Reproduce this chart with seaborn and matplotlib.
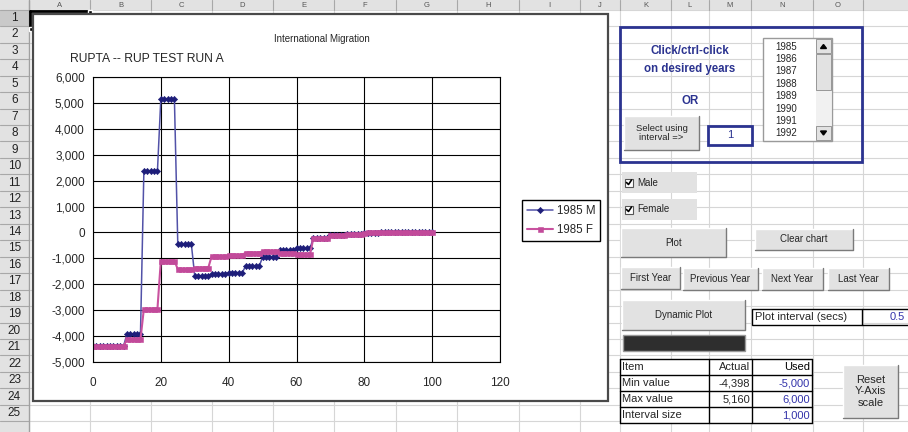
import numpy as np
import pandas as pd
import matplotlib
matplotlib.use("Agg")
import matplotlib.pyplot as plt
from matplotlib.patches import Rectangle
from matplotlib.ticker import FuncFormatter
import seaborn as sns

# --- data -----------------------------------------------------------
ages = list(range(0, 101))

male_1985 = [
    -4398, -4398, -4398, -4398, -4398,
    -4390, -4390, -4390, -4390, -4390,
    -3920, -3920, -3920, -3920, -3920,
    2370, 2370, 2370, 2370, 2370,
    5160, 5160, 5160, 5160, 5160,
    -460, -460, -460, -460, -460,
    -1680, -1680, -1680, -1680, -1680,
    -1600, -1600, -1600, -1600, -1600,
    -1550, -1550, -1550, -1550, -1550,
    -1300, -1300, -1300, -1300, -1300,
    -960, -960, -960, -960, -960,
    -680, -680, -680, -680, -680,
    -600, -600, -600, -600, -600,
    -200, -200, -200, -200, -200,
    -100, -100, -100, -100, -100,
    -60, -60, -60, -60, -60,
    -10, -10, -10, -10, -10,
    0, 0, 0, 0, 0,
    0, 0, 0, 0, 0,
    0, 0, 0, 0, 0,
    0,
]

female_1985 = [
    -4400, -4400, -4400, -4400, -4400,
    -4400, -4400, -4400, -4400, -4400,
    -4120, -4120, -4120, -4120, -4120,
    -2950, -2950, -2950, -2950, -2950,
    -1090, -1090, -1090, -1090, -1090,
    -1420, -1420, -1420, -1420, -1420,
    -1360, -1360, -1360, -1360, -1360,
    -910, -910, -910, -910, -910,
    -870, -870, -870, -870, -870,
    -780, -780, -780, -780, -780,
    -720, -720, -720, -720, -720,
    -800, -800, -800, -800, -800,
    -830, -830, -830, -830, -830,
    -210, -210, -210, -210, -210,
    -100, -100, -100, -100, -100,
    -70, -70, -70, -70, -70,
    -40, 10, 10, 10, 10,
    10, 10, 10, 10, 10,
    10, 10, 10, 10, 10,
    10, 10, 10, 10, 10,
    10,
]

series_names = ["1985 M", "1985 F"]
year_list = ["1985", "1986", "1987", "1988", "1989", "1990", "1991", "1992"]
table_rows = [
    ["Item", "Actual", "Used"],
    ["Min value", "-4,398", "-5,000"],
    ["Max value", "5,160", "6,000"],
    ["Interval size", "", "1,000"],
]
col_letters = ["A", "B", "C", "D", "E", "F", "G", "H", "I", "J", "K", "L", "M", "N", "O", "P"]

# --- settings ------------------------------------------------------
W, H = 908, 432
BLUE_TXT = "#2B3390"
sns.set_theme(style="white")
plt.rcParams["font.family"] = ["Liberation Sans", "DejaVu Sans"]

fig = plt.figure(figsize=(W / 100, H / 100), dpi=100)


def rect(x0, y0, x1, y1):
    return [x0 / W, 1 - y1 / H, (x1 - x0) / W, (y1 - y0) / H]


# background axes in pixel coords (y down)
bg = fig.add_axes([0, 0, 1, 1])
bg.set_xlim(0, W)
bg.set_ylim(H, 0)
bg.axis("off")

# --- spreadsheet grid ----------------------------------------------
col_edges = [29, 90, 151, 212, 273, 334, 396, 457, 519, 580, 620, 671, 709, 751, 813, 863, 930]
row_h = 16.46
row_tops = [9.8 + i * row_h for i in range(27)]

for x in col_edges:
    bg.plot([x, x], [0, H], color="#D6D6D6", lw=0.8, zorder=0)
for y in row_tops:
    bg.plot([29, W], [y, y], color="#D6D6D6", lw=0.8, zorder=0)

# headers
bg.add_patch(Rectangle((0, 0), W, 9.8, fc="#E2E2E2", ec="none", zorder=1))
bg.add_patch(Rectangle((0, 0), 29, H, fc="#E2E2E2", ec="none", zorder=1))
bg.add_patch(Rectangle((0, row_tops[0]), 29, row_h, fc="#C9C9C9", ec="none", zorder=1))
for x in col_edges:
    bg.plot([x, x], [0, 9.8], color="#A8A8A8", lw=0.8, zorder=2)
for i, (a, b) in enumerate(zip(col_edges[:-1], col_edges[1:])):
    if b > W:
        continue
    bg.text((a + b) / 2, 5.2, col_letters[i], ha="center", va="center",
            fontsize=5.5, color="#555555", zorder=2)
for i in range(26):
    y = row_tops[i]
    bg.plot([0, 29], [y, y], color="#A8A8A8", lw=0.8, zorder=2)
    if i < 25:
        bg.text(14.5, y + row_h / 2, str(i + 1), ha="center", va="center",
                fontsize=8.5, color="#222222", zorder=2)
bg.plot([29, 29], [0, H], color="#A0A0A0", lw=1, zorder=2)

# A1 selection outline
bg.plot([30, 90], [11, 11], color="black", lw=2, zorder=3)
bg.plot([30, 30], [11, 28], color="black", lw=2, zorder=3)
bg.add_patch(Rectangle((88, 9.5), 4, 4, fc="black", zorder=3))
bg.add_patch(Rectangle((28.5, 26.5), 4, 4, fc="black", zorder=3))

# --- chart area ----------------------------------------------------
bg.add_patch(Rectangle((33, 14), 575, 387, fc="white", ec="#4A4A4A", lw=1.6, zorder=4))
bg.text(322, 39, "International Migration", ha="center", va="center", fontsize=7, zorder=5)
bg.text(70, 59, "RUPTA -- RUP TEST RUN A", ha="left", va="center", fontsize=8.7, zorder=5)

ax = fig.add_axes(rect(93, 77, 500, 362))
ax.set_facecolor("white")

df_m = pd.DataFrame({"age": ages, "value": male_1985})
df_f = pd.DataFrame({"age": ages, "value": female_1985})
sns.lineplot(data=df_m, x="age", y="value", ax=ax, color="#5252A8", lw=1.1,
             marker="D", markersize=3.2, markerfacecolor="#1E1E7A",
             markeredgecolor="#1E1E7A", markeredgewidth=0.4, label=series_names[0])
sns.lineplot(data=df_f, x="age", y="value", ax=ax, color="#C9529F", lw=1.5,
             marker="s", markersize=3.6, markerfacecolor="#C24A9A",
             markeredgecolor="#C24A9A", markeredgewidth=0.4, label=series_names[1])

ax.set_xlim(0, 120)
ax.set_ylim(-5000, 6000)
ax.set_xticks(range(0, 121, 20))
ax.set_yticks(range(-5000, 6001, 1000))
ax.yaxis.set_major_formatter(FuncFormatter(lambda v, p: f"{int(v):,}"))
ax.set_xlabel("")
ax.set_ylabel("")
ax.grid(True, color="black", lw=0.8)
ax.set_axisbelow(True)
for s in ax.spines.values():
    s.set_color("black")
    s.set_linewidth(0.8)
ax.tick_params(direction="inout", length=6, width=0.8, color="black",
               labelsize=8.5, pad=3)
ax.tick_params(axis="x", pad=8)

leg = ax.legend(loc="center", bbox_to_anchor=(561 / W, 1 - 220.5 / H),
                bbox_transform=fig.transFigure, frameon=True, fancybox=False,
                edgecolor="black", framealpha=1, fontsize=8.3, handlelength=2.3,
                borderpad=0.45, labelspacing=0.6, handletextpad=0.3, borderaxespad=0)
leg.get_frame().set_linewidth(1)


# --- form controls -------------------------------------------------
def button(x0, y0, x1, y1, label, fs=7, **kw):
    bg.add_patch(Rectangle((x0, y0), x1 - x0, y1 - y0, fc="#E2E2E2", ec="none", zorder=5))
    bg.plot([x0, x0, x1], [y1, y0, y0], color="white", lw=1, zorder=6)
    bg.plot([x0, x1, x1], [y1, y1, y0], color="#7A7A7A", lw=1, zorder=6)
    bg.text((x0 + x1) / 2, (y0 + y1) / 2, label, ha="center", va="center",
            fontsize=fs, zorder=7, **kw)


# year selection box
bg.add_patch(Rectangle((620, 27), 242, 135, fc="none", ec=BLUE_TXT, lw=2, zorder=5))
bg.text(690, 51, "Click/ctrl-click", ha="center", va="center", fontsize=8.3,
        fontweight="bold", color=BLUE_TXT, zorder=6)
bg.text(690, 69, "on desired years", ha="center", va="center", fontsize=8.3,
        fontweight="bold", color=BLUE_TXT, zorder=6)
bg.text(690, 101, "OR", ha="center", va="center", fontsize=8.3,
        fontweight="bold", color=BLUE_TXT, zorder=6)
button(624, 116, 699, 150, "Select using\ninterval =>", fs=6.8, linespacing=1.05)
bg.add_patch(Rectangle((708, 126), 44, 19, fc="white", ec=BLUE_TXT, lw=2, zorder=5))
bg.text(730, 135.5, "1", ha="center", va="center", fontsize=8, color=BLUE_TXT, zorder=6)

# list box
bg.add_patch(Rectangle((763, 38), 69, 103, fc="white", ec="#9A9A9A", lw=1, zorder=5))
for k, yr in enumerate(year_list):
    bg.text(775, 46.5 + k * 12.4, yr, ha="left", va="center", fontsize=7, zorder=6)
bg.add_patch(Rectangle((816, 39), 15, 101, fc="#F1F1F1", ec="none", zorder=6))
for y0, y1 in [(39, 53), (54, 90), (126, 140)]:
    bg.add_patch(Rectangle((816, y0), 15, y1 - y0, fc="#E2E2E2", ec="#8A8A8A", lw=0.6, zorder=7))
bg.fill([820.5, 826.5, 823.5], [48.5, 48.5, 44.5], color="black", zorder=8)
bg.fill([820.5, 826.5, 823.5], [131, 131, 135], color="black", zorder=8)

# checkboxes
for y0, lab in [(172, "Male"), (199, "Female")]:
    bg.add_patch(Rectangle((622, y0), 75, 21, fc="#E2E2E2", ec="none", zorder=5))
    bg.add_patch(Rectangle((625, y0 + 6.5), 8, 8, fc="white", ec="#555555", lw=0.8, zorder=6))
    bg.plot([626.5, 628.5, 631.5], [y0 + 10.5, y0 + 12.5, y0 + 8], color="black", lw=1.2, zorder=7)
    bg.text(637, y0 + 10.5, lab, ha="left", va="center", fontsize=7, zorder=7)

button(621, 228, 726, 257, "Plot")
button(755, 229, 853, 250, "Clear chart")
button(621, 267, 680, 289, "First Year")
button(683, 268, 758, 290, "Previous Year")
button(762, 268, 823, 290, "Next Year")
button(828, 268, 889, 290, "Last Year")
button(622, 300, 745, 330, "Dynamic Plot")

# plot interval cell
bg.add_patch(Rectangle((752, 309), 110, 16, fc="white", ec="black", lw=1, zorder=5))
bg.text(755, 317, "Plot interval (secs)", ha="left", va="center", fontsize=8, zorder=6)
bg.plot([862, 908], [309, 309], color="black", lw=1, zorder=5)
bg.plot([862, 908], [325, 325], color="black", lw=1, zorder=5)
bg.text(905, 317, "0.5", ha="right", va="center", fontsize=8, color="#3333AA", zorder=6)

# progress bar
bg.add_patch(Rectangle((623, 335), 122, 16, fc="#2E2E2E", ec="#9A9A9A", lw=1, zorder=5))

# scale table
tx = [620, 709, 752, 812]
ty = [359, 375, 391, 407, 423]
bg.add_patch(Rectangle((620, 359), 192, 64, fc="white", ec="none", zorder=5))
for x in tx:
    bg.plot([x, x], [ty[0], ty[-1]], color="black", lw=1, zorder=6)
for y in ty:
    bg.plot([tx[0], tx[-1]], [y, y], color="black", lw=1, zorder=6)
for r, row in enumerate(table_rows):
    yc = (ty[r] + ty[r + 1]) / 2
    bg.text(622, yc, row[0], ha="left", va="center", fontsize=8, zorder=7)
    bg.text(750, yc, row[1], ha="right", va="center", fontsize=8, zorder=7)
    bg.text(810, yc, row[2], ha="right", va="center", fontsize=8, zorder=7,
            color="black" if r == 0 else "#3333AA")

button(843, 365, 898, 418, "Reset\nY-Axis\nscale", fs=8, linespacing=1.15)

fig.savefig("out.png", dpi=100)
